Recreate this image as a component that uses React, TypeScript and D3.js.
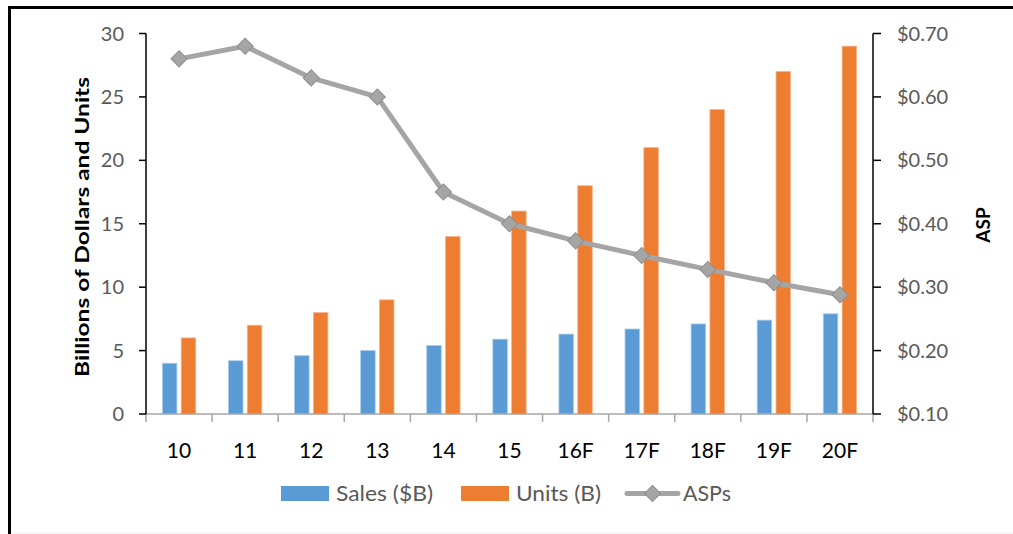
import React from 'react';
import * as d3 from 'd3';

const categories = ['10', '11', '12', '13', '14', '15', '16F', '17F', '18F', '19F', '20F'];
const sales = [4.0, 4.2, 4.6, 5.0, 5.4, 5.9, 6.3, 6.7, 7.1, 7.4, 7.9];
const units = [6, 7, 8, 9, 14, 16, 18, 21, 24, 27, 29];
const asp = [0.66, 0.68, 0.63, 0.6, 0.45, 0.4, 0.373, 0.35, 0.328, 0.307, 0.288];
const leftTicks = [0, 5, 10, 15, 20, 25, 30];
const rightTicks = [0.1, 0.2, 0.3, 0.4, 0.5, 0.6, 0.7];

const W = 1013;
const H = 534;
const FONT = 'Lato, "Open Sans", sans-serif';

export default function App() {
  const left = 146;
  const right = 873;
  const top = 33.5;
  const bottom = 414;

  const x = d3.scaleBand<string>().domain(categories).range([left, right]).padding(0);
  const sub = d3
    .scaleBand<string>()
    .domain(['sales', 'units'])
    .range([0, x.bandwidth()])
    .paddingInner(0.229)
    .paddingOuter(0.87);
  const yL = d3.scaleLinear().domain([0, 30]).range([bottom, top]);
  const yR = d3.scaleLinear().domain([0.1, 0.7]).range([bottom, top]);
  const fmt = d3.format('$.2f');

  const line = d3
    .line<number>()
    .x((_, i) => (x(categories[i]) as number) + x.bandwidth() / 2)
    .y((d) => yR(d));

  const diamond = d3.symbol().type(d3.symbolSquare).size(130);
  const dPath = diamond() as string;

  const gray = '#595959';
  const blue = '#5B9BD5';
  const orange = '#ED7D31';
  const aspColor = '#A5A5A5';

  return (
    <svg
      width={W}
      height={H}
      style={{ position: 'absolute', left: 0, top: 0, background: '#fff' }}
      fontFamily={FONT}
    >
      <rect x={0} y={0} width={W} height={H} fill="#fff" />
      {/* frame */}
      <path d={`M9.5,${H} L9.5,7.5 L${W},7.5`} fill="none" stroke="#000" strokeWidth={3} />
      <line x1={11} x2={W} y1={H - 1} y2={H - 1} stroke="#eeeeee" strokeWidth={1} />

      {/* bars */}
      {categories.map((c, i) => {
        const x0 = x(c) as number;
        return (
          <g key={c}>
            <rect
              x={x0 + (sub('sales') as number)}
              y={yL(sales[i])}
              width={sub.bandwidth()}
              height={bottom - yL(sales[i])}
              fill={blue}
              stroke="#a9cbea"
              strokeWidth={0.8}
            />
            <rect
              x={x0 + (sub('units') as number)}
              y={yL(units[i])}
              width={sub.bandwidth()}
              height={bottom - yL(units[i])}
              fill={orange}
              stroke="#f5b48a"
              strokeWidth={0.8}
            />
          </g>
        );
      })}

      {/* bottom axis */}
      <line x1={left} x2={right} y1={bottom} y2={bottom} stroke="#A6A6A6" strokeWidth={1.5} />
      {categories.concat(['end']).map((c, i) => {
        const xx = left + i * x.bandwidth();
        return <line key={'bt' + i} x1={xx} x2={xx} y1={bottom} y2={bottom + 8} stroke="#A6A6A6" strokeWidth={1.5} />;
      })}
      {categories.map((c) => (
        <text
          key={'cl' + c}
          x={(x(c) as number) + x.bandwidth() / 2}
          y={458}
          textAnchor="middle"
          fontSize={21}
          fill="#000"
        >
          {c}
        </text>
      ))}

      {/* left axis */}
      <line x1={left} x2={left} y1={top} y2={bottom} stroke="#000" strokeWidth={1.5} />
      {leftTicks.map((t) => (
        <g key={'lt' + t}>
          <line x1={left - 7} x2={left} y1={yL(t)} y2={yL(t)} stroke="#000" strokeWidth={1.5} />
          <text x={124} y={yL(t) + 7} textAnchor="end" fontSize={20} fill={gray}>
            {t}
          </text>
        </g>
      ))}
      <text
        transform={`translate(89, 227) rotate(-90)`}
        textAnchor="middle"
        fontSize={19}
        fontWeight="bold"
        fill="#000"
        textLength={300}
        lengthAdjust="spacingAndGlyphs"
      >
        Billions of Dollars and Units
      </text>

      {/* right axis */}
      <line x1={right} x2={right} y1={top} y2={bottom} stroke="#000" strokeWidth={1.5} />
      {rightTicks.map((t) => (
        <g key={'rt' + t}>
          <line x1={right} x2={right + 8} y1={yR(t)} y2={yR(t)} stroke="#000" strokeWidth={1.5} />
          <text x={897} y={yR(t) + 7} textAnchor="start" fontSize={20} fill={gray}>
            {fmt(t)}
          </text>
        </g>
      ))}
      <text
        transform={`translate(990, 225) rotate(-90)`}
        textAnchor="middle"
        fontSize={19}
        fontWeight="bold"
        fill="#000"
      >
        ASP
      </text>

      {/* ASP line */}
      <path d={line(asp) as string} fill="none" stroke={aspColor} strokeWidth={5} strokeLinejoin="round" />
      {asp.map((v, i) => (
        <path
          key={'m' + i}
          d={dPath}
          transform={`translate(${(x(categories[i]) as number) + x.bandwidth() / 2}, ${yR(v)}) rotate(45)`}
          fill={aspColor}
          stroke="#8f8f8f"
          strokeWidth={1}
        />
      ))}

      {/* legend */}
      <rect x={281} y={486} width={48} height={15} fill={blue} />
      <text x={336} y={501} fontSize={21} fill={gray} textLength={97} lengthAdjust="spacingAndGlyphs">
        Sales ($B)
      </text>
      <rect x={461} y={486} width={48} height={15} fill={orange} />
      <text x={516} y={501} fontSize={21} fill={gray} textLength={85} lengthAdjust="spacingAndGlyphs">
        Units (B)
      </text>
      <line x1={627} x2={678} y1={493.5} y2={493.5} stroke={aspColor} strokeWidth={5} strokeLinecap="round" />
      <path d={dPath} transform="translate(652.5, 493.5) rotate(45)" fill={aspColor} stroke="#8f8f8f" strokeWidth={1} />
      <text x={683} y={501} fontSize={21} fill={gray} textLength={48} lengthAdjust="spacingAndGlyphs">
        ASPs
      </text>
    </svg>
  );
}
